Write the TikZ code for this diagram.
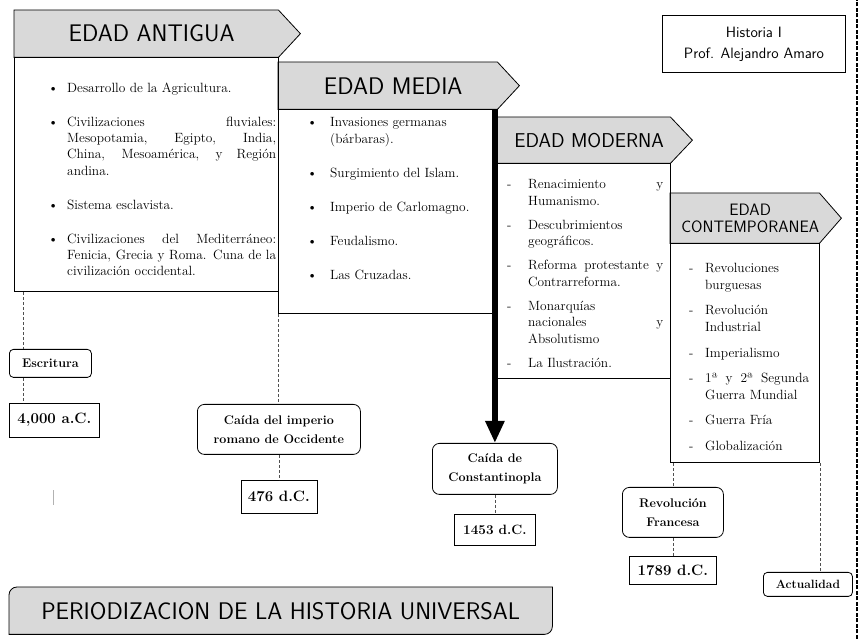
\documentclass[tikz,border=0pt]{standalone}
\usepackage{fontspec}
\usepackage{tikz}
\usetikzlibrary{arrows.meta,positioning,calc,backgrounds}
\definecolor{grisEnc}{RGB}{217,217,217}
\definecolor{grisLinea}{RGB}{80,80,80}
\newlength{\hangw}
\newlength{\gapw}
\newcommand{\cuerpo}{\fontsize{13.4}{16.3}\selectfont}
\newcommand{\elem}[2]{\noindent\hangindent=\hangw\hangafter=1\makebox[\hangw][l]{#1}#2\par\vspace{\gapw}}

\begin{document}
\begin{tikzpicture}[
        x=1pt, y=1pt,
        encabezado/.style={rectangle, inner sep=0pt, align=center, font=\sffamily\fontsize{24}{25}\selectfont},
        fondo/.style={draw=black, fill=grisEnc, line width=0.8pt},
        caja/.style={rectangle, draw=black, line width=0.8pt, inner sep=0pt},
        lista/.style n args={3}{text width=#1, align=justify, inner sep=0pt, font=\cuerpo, execute at begin node={\setlength{\hangw}{#2}\setlength{\gapw}{#3}}},
        evento/.style={rectangle, rounded corners=#1, draw=black, line width=0.8pt, inner sep=0pt, align=center, font=\bfseries\fontsize{12.5}{19}\selectfont},
        fecha/.style={rectangle, draw=black, line width=0.8pt, inner sep=0pt, font=\bfseries\fontsize{15}{18}\selectfont},
        conector/.style={draw=grisLinea, line width=0.6pt, dash pattern=on 3pt off 2pt},
        flecha/.style={-{Triangle[length=22pt, width=18pt]}, line width=6pt},
    ]
        \useasboundingbox (0,0) rectangle (859,639);

        % Edad Antigua
        \node[encabezado, minimum width=275, minimum height=47, anchor=north west] (antH) at (14,629) {EDAD ANTIGUA};
        \node[caja, minimum width=264, minimum height=234, below right=0pt of antH.south west] (antB) {};
        \node[lista={228}{19pt}{17.7pt}, below right=25pt and 34pt of antB.north west] (antT) {
            \elem{\textbullet}{Desarrollo de la Agricultura.}
            \elem{\textbullet}{Civilizaciones fluviales:\linebreak Mesopotamia, Egipto, India,\linebreak China, Mesoamérica, y Región\linebreak andina.}
            \elem{\textbullet}{Sistema esclavista.}
            \elem{\textbullet}{Civilizaciones del Mediterráneo:\linebreak Fenicia, Grecia y Roma. Cuna de la\linebreak civilización occidental.}
        };

        % Edad Media
        \node[encabezado, minimum width=230, minimum height=47, anchor=north west] (medH) at (278,577) {EDAD MEDIA};
        \node[caja, minimum width=219, minimum height=204, below right=0pt of medH.south west] (medB) {};
        \node[lista={183}{23pt}{17.7pt}, below right=8pt and 29pt of medB.north west] (medT) {
            \elem{\textbullet}{Invasiones germanas\newline (bárbaras).}
            \elem{\textbullet}{Surgimiento del Islam.}
            \elem{\textbullet}{Imperio de Carlomagno.}
            \elem{\textbullet}{Feudalismo.}
            \elem{\textbullet}{Las Cruzadas.}
        };

        % Edad Moderna
        \node[encabezado, font=\sffamily\fontsize{20}{21}\selectfont, minimum width=184, minimum height=46, anchor=north west] (modH) at (497,522) {EDAD MODERNA};
        \node[caja, minimum width=173, minimum height=215, below right=0pt of modH.south west] (modB) {};
        \node[lista={156}{21pt}{8pt}, below right=16pt and 10pt of modB.north west] (modT) {
            \elem{-}{Renacimiento y\linebreak Humanismo.}
            \elem{-}{Descubrimientos\newline geográficos.}
            \elem{-}{Reforma protestante y\linebreak Contrarreforma.}
            \elem{-}{Monarquías\newline nacionales y\linebreak Absolutismo}
            \elem{-}{La Ilustración.}
        };

        % Edad Contemporanea
        \node[encabezado, font=\sffamily\fontsize{16.5}{16.5}\selectfont, minimum width=160, minimum height=50, anchor=north west] (conH) at (670,446) {EDAD\\CONTEMPORANEA};
        \node[caja, minimum width=149, minimum height=219, below right=0pt of conH.south west] (conB) {};
        \node[lista={120}{16pt}{9.5pt}, below right=20pt and 19pt of conB.north west] (conT) {
            \elem{-}{Revoluciones\newline burguesas}
            \elem{-}{Revolución\newline Industrial}
            \elem{-}{Imperialismo}
            \elem{-}{1ª y 2ª Segunda\linebreak Guerra Mundial}
            \elem{-}{Guerra Fría}
            \elem{-}{Globalización}
        };

        % Autor
        \node[caja, minimum width=183, minimum height=57, anchor=north west, align=center, font=\sffamily\fontsize{15}{21}\selectfont] (hist) at (662,624) {Historia I\\Prof. Alejandro Amaro};

        % Hitos
        \node[evento=4pt, minimum width=82, minimum height=28, anchor=north west] (esc) at (9,290) {Escritura};
        \node[fecha, minimum width=90, minimum height=34, below right=25pt and 0pt of esc.south west] (d4000) {4,000 a.C.};
        \node[evento=7pt, minimum width=163, minimum height=50, anchor=north west] (romano) at (197,235) {Caída del imperio\\romano de Occidente};
        \node[fecha, minimum width=76, minimum height=33, below=25pt of romano] (d476) {476 d.C.};
        \node[evento=7pt, minimum width=125, minimum height=51, anchor=north west] (const) at (432,196) {Caída de\\Constantinopla};
        \node[fecha, font=\bfseries\fontsize{13.5}{16}\selectfont, minimum width=81, minimum height=31, below=19pt of const] (d1453) {1453 d.C.};
        \node[evento=7pt, minimum width=101, minimum height=50, anchor=north west] (revol) at (622,152) {Revolución\\Francesa};
        \node[fecha, minimum width=87, minimum height=28, below=18pt of revol] (d1789) {1789 d.C.};
        \node[evento=4pt, font=\bfseries\fontsize{12}{14}\selectfont, minimum width=89, minimum height=24, anchor=north west] (actual) at (763,67) {Actualidad};

        % Titulo
        \node[encabezado, minimum width=543, minimum height=47, anchor=north west] (titulo) at (9,52) {PERIODIZACION DE LA HISTORIA UNIVERSAL};

        % Fondos
        \begin{scope}[on background layer]
            \foreach \enc in {antH, medH, modH, conH} {
                \draw[fondo] (\enc.north west) -- ([xshift=-11pt]\enc.north east) -- ([xshift=11pt]\enc.east) -- ([xshift=-11pt]\enc.south east) -- (\enc.south west) -- cycle;
            }
            \draw[fondo] (titulo.south west) -- ([yshift=-8pt]titulo.north west) arc[start angle=180, end angle=90, radius=8pt] -- (titulo.north east) -- ([yshift=8pt]titulo.south east) arc[start angle=0, end angle=-90, radius=8pt] -- cycle;
        \end{scope}

        % Lineas punteadas
        \draw[conector] ([xshift=9pt]antB.south west) -- ([xshift=9pt]antB.south west |- esc.north);
        \draw[conector] ([xshift=9pt]antB.south west |- esc.south) -- ([xshift=9pt]antB.south west |- d4000.north);
        \draw[conector] (medB.south west) -- (medB.south west |- romano.north);
        \draw[conector] (romano.south) -- (d476.north);
        \draw[conector] (const.south) -- (d1453.north);
        \draw[conector] (revol.north |- conB.south) -- (revol.north);
        \draw[conector] (revol.south) -- (d1789.north);
        \draw[conector] (conB.south east) -- (conB.south east |- actual.north);

        % Flecha
        \draw[flecha] (const.north |- medB.north) -- (const.north);

        % Borde
        \draw[line width=1.2pt, dash pattern=on 4pt off 1.5pt] (857,0) -- (857,639);
        \draw[gray!60, line width=0.6pt] (53,134) -- (53,149);

    \end{tikzpicture}
\end{document}
